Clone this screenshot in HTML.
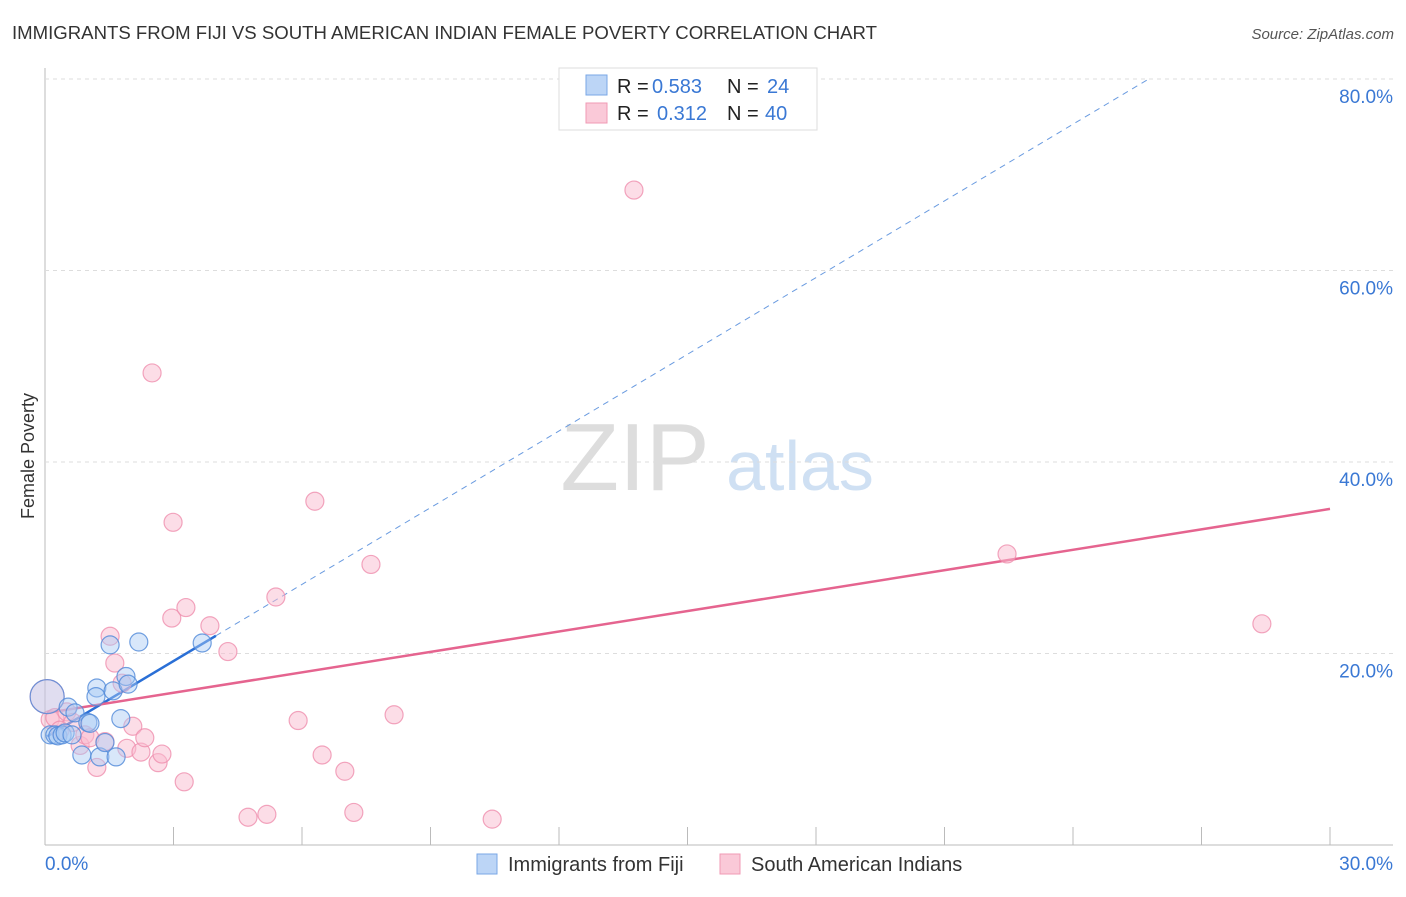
<!DOCTYPE html>
<html><head><meta charset="utf-8"><style>
body{margin:0;background:#fff;font-family:"Liberation Sans",sans-serif;}
svg text{font-family:"Liberation Sans",sans-serif;}
</style></head><body>
<svg id="c" width="1406" height="892">
<text x="12" y="39" font-size="18" fill="#333" textLength="865" lengthAdjust="spacingAndGlyphs">IMMIGRANTS FROM FIJI VS SOUTH AMERICAN INDIAN FEMALE POVERTY CORRELATION CHART</text>
<text x="1394" y="39" font-size="15" fill="#555" font-style="italic" text-anchor="end">Source: ZipAtlas.com</text>
<text x="34" y="456" font-size="18" fill="#333" text-anchor="middle" transform="rotate(-90 34 456)">Female Poverty</text>
<g><text x="635" y="490" font-size="96" fill="#ddd" font-family="Liberation Serif" text-anchor="middle">ZIP</text><text x="800" y="490" font-size="70" fill="#cfe0f3" text-anchor="middle">atlas</text></g>
<g id="grid"></g><g id="lines"></g><g id="pts"></g>
<g>
<rect x="559" y="68" width="258" height="62" fill="#fff" stroke="#ddd"/>
<rect x="586" y="75" width="21" height="20" fill="#bcd5f6" stroke="#7aa7e6"/>
<rect x="586" y="103" width="21" height="20" fill="#fac9d8" stroke="#f09ab4"/>
<text y="93" font-size="20" fill="#222"><tspan x="617">R =</tspan><tspan x="652" fill="#3a78d4">0.583</tspan><tspan x="727">N =</tspan><tspan x="767" fill="#3a78d4">24</tspan></text>
<text y="120" font-size="20" fill="#222"><tspan x="617">R =</tspan><tspan x="657" fill="#3a78d4">0.312</tspan><tspan x="727">N =</tspan><tspan x="765" fill="#3a78d4">40</tspan></text>
</g>
<g>
<rect x="477" y="854" width="20" height="20" fill="#bcd5f6" stroke="#7aa7e6"/>
<text x="508" y="871" font-size="20" fill="#333">Immigrants from Fiji</text>
<rect x="720" y="854" width="20" height="20" fill="#fac9d8" stroke="#f09ab4"/>
<text x="751" y="871" font-size="20" fill="#333">South American Indians</text>
</g>
<text x="45" y="870" font-size="19" fill="#3a78d4">0.0%</text>
<text x="1393" y="870" font-size="19" fill="#3a78d4" text-anchor="end">30.0%</text>
</svg>
<script>
const yTicks=[20,40,60,80];
const xTickCount=10;
const fijiX=[0.05,0.12,0.23,0.30,0.40,0.47,0.54,0.63,0.70,0.86,1.00,1.05,1.21,1.19,1.28,1.40,1.52,1.59,1.66,1.77,1.89,1.94,2.19,3.67];
const fijiY=[15.5,11.5,11.5,11.4,11.5,11.7,14.4,11.5,13.8,9.4,12.8,12.7,16.4,15.5,9.2,10.7,20.9,16.1,9.2,13.2,17.6,16.8,21.2,21.1];
const saiX=[0.05,0.12,0.23,0.35,0.51,0.65,0.82,0.93,1.05,1.21,1.40,1.52,1.63,1.80,1.91,2.05,2.24,2.33,2.64,2.73,2.50,2.99,2.96,3.29,3.25,3.85,4.27,4.74,5.18,5.39,5.91,6.30,6.47,7.00,7.21,7.61,8.15,10.44,13.75,22.46,28.41];
const saiY=[15.5,13.1,13.3,12.0,13.9,12.8,10.4,11.5,11.2,8.1,10.8,21.8,19.0,16.9,10.1,12.4,9.7,11.2,8.6,9.5,49.3,33.7,23.7,24.8,6.6,22.9,20.2,2.9,3.2,25.9,13.0,35.9,9.4,7.7,3.4,29.3,13.6,2.7,68.4,30.4,23.1];
const fijiTrend=[11.2,2.67];
const saiTrend=[13.8,0.71];
const X=v=>45+v/30*1285, Y=v=>845-v*9.575;
const NS='http://www.w3.org/2000/svg';
function mk(t,a,p){const e=document.createElementNS(NS,t);for(const k in a)e.setAttribute(k,a[k]);p.appendChild(e);return e;}
const g=document.getElementById('grid');
let ax=mk('line',{x1:45,y1:68,x2:45,y2:845,stroke:'#bbb'},g);


let bx=mk('line',{x1:45,y1:845,x2:1393,y2:845,stroke:'#bbb'},g);


for(let i=1;i<=xTickCount;i++){const t=mk('line',{x1:X(i*3),x2:X(i*3),y1:827,y2:845,stroke:'#bbb'},g);

}
yTicks.forEach(v=>{const l=mk('line',{x1:45,x2:1393,y1:Y(v),y2:Y(v),stroke:'#ddd','stroke-dasharray':'4 4'},g);


const t=mk('text',{x:1393,y:Y(v)+24,'font-size':19,fill:'#3a78d4','text-anchor':'end'},g);t.textContent=v.toFixed(1)+'%';

});
const P=document.getElementById('pts');
function pts(xs,ys,fill,stroke,name,op){xs.forEach((x,i)=>{const c=mk('circle',{cx:X(x),cy:Y(ys[i]),r:i==0?17:9,fill:fill,stroke:stroke,'stroke-width':1.2,'fill-opacity':i==0?0.35:op,'stroke-opacity':0.8},P);

});}
pts(saiX,saiY,'#f9bccf','#ef8fae','sai-point',0.5);
pts(fijiX,fijiY,'#a9c9f3','#4f88d8','fiji-point',0.45);
const L=document.getElementById('lines');
const xEnd=(80-fijiTrend[0])/fijiTrend[1];
let d=mk('line',{x1:X(3.99),y1:Y(fijiTrend[0]+fijiTrend[1]*3.99),x2:X(xEnd),y2:Y(80),stroke:'#6a9be0','stroke-dasharray':'6 5','stroke-width':1},L);


let s=mk('line',{x1:X(0.05),y1:Y(fijiTrend[0]+fijiTrend[1]*0.05),x2:X(3.99),y2:Y(fijiTrend[0]+fijiTrend[1]*3.99),stroke:'#2a6fd6','stroke-width':2.5},L);


let p=mk('line',{x1:X(0.05),y1:Y(saiTrend[0]),x2:X(30),y2:Y(saiTrend[0]+saiTrend[1]*30),stroke:'#e5648f','stroke-width':2.5},L);


</script>
</body></html>
